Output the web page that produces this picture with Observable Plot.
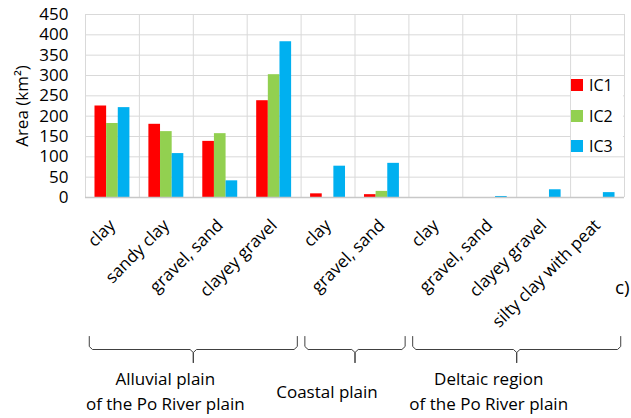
<!DOCTYPE html>
<html>
<head>
<meta charset="utf-8">
<script src="https://cdn.jsdelivr.net/npm/d3@7"></script>
<script src="https://cdn.jsdelivr.net/npm/@observablehq/plot@0.6"></script>
<style>
  body { margin: 0; background: #fff; font-family: "Open Sans", sans-serif; }
  #wrap { position: relative; width: 631px; height: 418px; overflow: hidden; background: #fff; }
  #wrap svg { display: block; overflow: visible; }
  .legend { position: absolute; left: 571px; top: 77px; width: 52px; height: 78px; background: #fff; }
  .legend .row { position: absolute; left: 0; display: flex; align-items: center; font-size: 16px; color: #000; line-height: 1; }
  .legend .sw { width: 12px; height: 12px; margin-right: 6px; }
  .tag { position: absolute; left: 615px; top: 274px; font-size: 19px; color: #000; }
</style>
</head>
<body>
<div id="wrap"></div>
<script>
// ---- data ----
const soilTypes = ["clay", "sandy clay", "gravel, sand", "clayey gravel", "clay", "gravel, sand", "clay", "gravel, sand", "clayey gravel", "silty clay with peat"];
const regionOfType = [0, 0, 0, 0, 1, 1, 2, 2, 2, 2];
const regionNames = ["Alluvial plain\nof the Po River plain", "Coastal plain", "Deltaic region\nof the Po River plain"];
const seriesNames = ["IC1", "IC2", "IC3"];
const ic1 = [225, 180, 138, 238, 9, 7, 0, 0, 0, 0];
const ic2 = [182, 162, 157, 302, 0, 15, 0, 0, 0, 0];
const ic3 = [221, 108, 41, 383, 77, 84, 0, 2.5, 19, 12];
const yTicks = [0, 50, 100, 150, 200, 250, 300, 350, 400, 450];
const panelLabel = "c)";

// ---- styles ----
const colors = ["#ff0000", "#92d050", "#00b0f0"];
const barWidth = 0.216;      // fraction of a category slot
const braceInset = 0.07;     // category units
const gridColor = "#d9d9d9";

const seriesValues = [ic1, ic2, ic3];
const rows = [];
soilTypes.forEach((t, i) => {
  seriesValues.forEach((vals, s) => {
    rows.push({i, s, v: vals[i], series: seriesNames[s]});
  });
});
const nCat = soilTypes.length;
const centers = d3.range(nCat).map(i => i + 0.5);

const main = Plot.plot({
  width: 631, height: 334,
  marginLeft: 85, marginRight: 7, marginTop: 14, marginBottom: 137,
  style: {fontFamily: "Open Sans, sans-serif", fontSize: "16px", color: "#000", background: "transparent", overflow: "visible"},
  x: {domain: [0, nCat], axis: null},
  y: {domain: [0, 450], axis: null},
  color: {domain: seriesNames, range: colors},
  marks: [
    Plot.ruleY(yTicks.filter(d => d > 0), {stroke: gridColor, strokeWidth: 1}),
    Plot.ruleX(d3.range(0, nCat + 1), {stroke: gridColor, strokeWidth: 1}),
    Plot.rect(rows.filter(d => d.v > 0), {
      x1: d => d.i + 0.5 + (d.s - 1.5) * barWidth,
      x2: d => d.i + 0.5 + (d.s - 0.5) * barWidth,
      y1: 0, y2: "v", fill: "series"
    }),
    Plot.ruleY([0], {stroke: "#c8c8c8", strokeWidth: 1.5}),
    Plot.axisY({ticks: yTicks, tickSize: 0, tickPadding: 17, fontSize: 17,
      label: "Area (km²)", labelAnchor: "center", labelArrow: "none", labelOffset: 70}),
    Plot.axisX({ticks: centers, tickFormat: t => soilTypes[Math.floor(t)], tickSize: 0,
      tickRotate: -45, tickPadding: 25, textAnchor: "end", fontSize: 17, label: null})
  ]
});

// brace shapes (annotation geometry)
const braceTop = 2, braceMid = 15, braceTip = 28, labelMid = 55, r = 3, rx = 0.06;
const regions = regionNames.map((name, k) => {
  const idx = regionOfType.map((g, i) => g === k ? i : -1).filter(i => i >= 0);
  const x0 = d3.min(idx) + braceInset, x1 = d3.max(idx) + 1 - braceInset;
  return {name, x0, x1, xc: (x0 + x1) / 2};
});
const bracePts = [];
regions.forEach((g, k) => {
  [[g.x0, 1], [g.x1, -1]].forEach(([xe, dir], h) => {
    const z = k * 2 + h;
    bracePts.push({z, x: xe, y: braceTop});
    bracePts.push({z, x: xe, y: braceMid - r});
    bracePts.push({z, x: xe + dir * rx, y: braceMid});
    bracePts.push({z, x: g.xc - dir * rx, y: braceMid});
    bracePts.push({z, x: g.xc, y: braceMid + r});
    bracePts.push({z, x: g.xc, y: braceTip});
  });
});

const ann = Plot.plot({
  width: 631, height: 84,
  marginLeft: 85, marginRight: 7, marginTop: 0, marginBottom: 0,
  style: {fontFamily: "Open Sans, sans-serif", fontSize: "17px", color: "#000", background: "transparent", overflow: "visible"},
  x: {domain: [0, nCat], axis: null},
  y: {domain: [0, 84], range: [0, 84], axis: null},
  marks: [
    Plot.line(bracePts, {x: "x", y: "y", z: "z", stroke: "#404040", strokeWidth: 1}),
    Plot.text(regions, {x: "xc", y: () => labelMid, text: "name", dx: -28, lineAnchor: "middle",
      lineHeight: 1.47, fontSize: 17, fill: "#000"})
  ]
});

const wrap = document.getElementById("wrap");
wrap.appendChild(main);
wrap.appendChild(ann);

// legend
const legend = document.createElement("div");
legend.className = "legend";
seriesNames.forEach((n, s) => {
  const row = document.createElement("div");
  row.className = "row";
  row.style.top = (s * 30.5) + "px";
  const sw = document.createElement("span");
  sw.className = "sw";
  sw.style.background = colors[s];
  const tx = document.createElement("span");
  tx.textContent = n;
  row.appendChild(sw); row.appendChild(tx);
  legend.appendChild(row);
});
wrap.appendChild(legend);

const tag = document.createElement("div");
tag.className = "tag";
tag.textContent = panelLabel;
wrap.appendChild(tag);
</script>
</body>
</html>
